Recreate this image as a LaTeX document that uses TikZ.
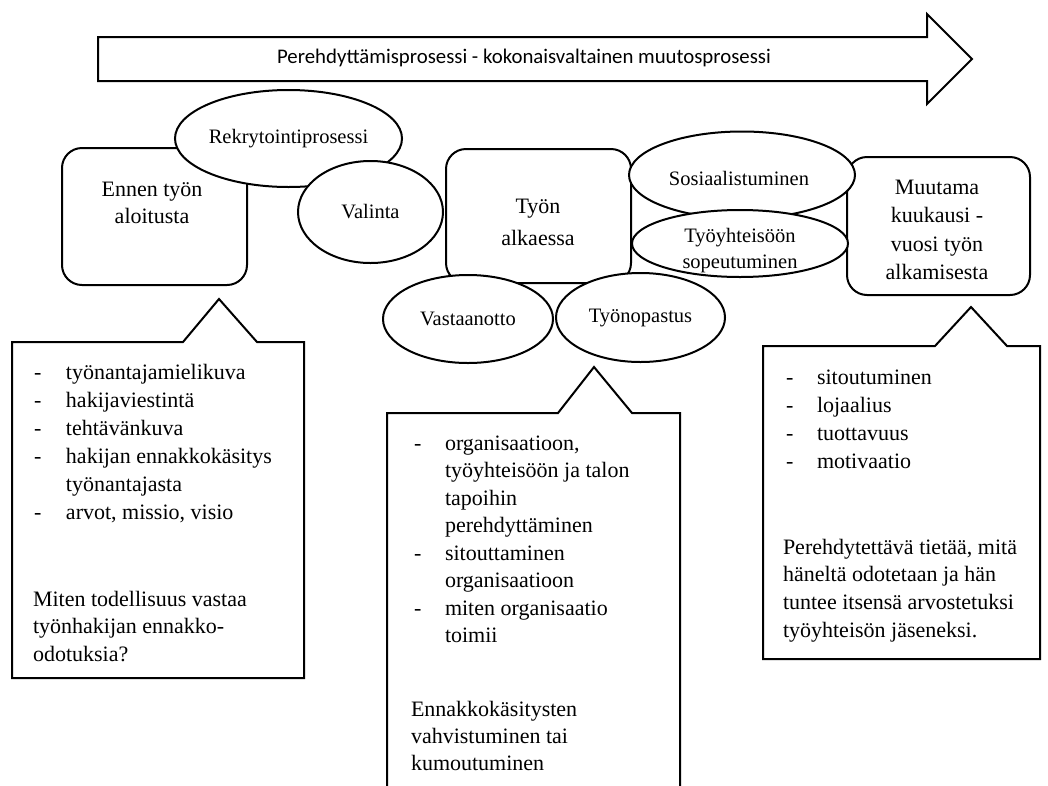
\documentclass[tikz,border=0pt]{standalone}
\usepackage{fontspec}
\setmainfont{Liberation Serif}
\newfontfamily\calib{Carlito}
\usetikzlibrary{shapes.geometric}
\begin{document}
\begin{tikzpicture}[x=1pt,y=-1pt,line width=2pt,
  bubble/.style={ellipse, draw, fill=white, inner sep=0pt, align=center,
    font=\fontsize{20.5}{26}\selectfont},
  bubbletext/.style={inner sep=0pt, align=center, font=\fontsize{20.5}{26}\selectfont},
  stagebox/.style={draw, fill=white, rounded corners=20pt, inner sep=0pt},
  stagetext/.style={anchor=north, inner sep=0pt, align=center},
  listtext/.style={anchor=north west, inner sep=0pt, align=left},
  callout/.style={draw, fill=white, line join=miter}]
\useasboundingbox (0,0) rectangle (1048,785);
% big process arrow
\draw[line join=miter] (98,37) -- (927,37) -- (927,14) -- (972,59) -- (927,104) -- (927,81) -- (98,81) -- cycle;
\node[font=\calib\fontsize{20.8}{24}\selectfont, inner sep=0pt] (title) at (524,58)
  {Perehdyttämisprosessi - kokonaisvaltainen muutosprosessi};
% stage boxes
\node[stagebox, minimum width=185pt, minimum height=137pt] (ennen) at (154.5,216.5) {};
\node[stagebox, minimum width=185pt, minimum height=134pt] (tyon) at (538.5,216) {};
\node[stagebox, minimum width=183pt, minimum height=138pt] (muutama) at (938.5,226) {};
% ellipses
\node[bubble, minimum width=227pt, minimum height=97pt] (rekry) at (288.5,138.5) {Rekrytointiprosessi};
\node[bubble, minimum width=145pt, minimum height=102pt] (valinta) at (370.5,212) {Valinta};
\node[bubble, minimum width=226pt, minimum height=87pt] (sosi) at (742,175) {};
\node[bubbletext, anchor=base] (sosiT) at (739,185) {Sosiaalistuminen};
\node[bubble, minimum width=216pt, minimum height=67pt] (tyoyht) at (740,243.5) {};
\node[bubbletext, anchor=north] (tyoyhtT) at (740,222.8) {\strut Työyhteisöön\\sopeutuminen};
\node[bubble, minimum width=170pt, minimum height=88pt] (vast) at (468,319) {Vastaanotto};
\node[bubble, minimum width=169pt, minimum height=89pt] (tyonop) at (640.5,317.5) {Työnopastus};
% stage texts
\node[stagetext, font=\fontsize{22}{27}\selectfont] (ennenT) at (152,176.1) {\strut Ennen työn\\aloitusta};
\node[stagetext, font=\fontsize{22}{32}\selectfont] (tyonT) at (538,189.6) {\strut Työn\\alkaessa};
\node[stagetext, font=\fontsize{22}{28.5}\selectfont] (muutamaT) at (937,173.2) {\strut Muutama\\kuukausi -\\vuosi työn\\alkamisesta};
% callouts
\draw[callout] (12,342) -- (183,342) -- (219,299) -- (257,342) -- (304,342) -- (304,678) -- (12,678) -- cycle;
\draw[callout] (387,413) -- (558,413) -- (594,367) -- (632,413) -- (680,413) -- (680,800) -- (387,800) -- cycle;
\draw[callout] (763,346) -- (935,346) -- (971,307) -- (1007,346) -- (1040,346) -- (1040,659) -- (763,659) -- cycle;
% left callout text
\node[listtext, font=\fontsize{22}{28}\selectfont] (leftlist) at (33,358.4)
  {\strut\makebox[32pt][l]{-}työnantajamielikuva\\
   \makebox[32pt][l]{-}hakijaviestintä\\
   \makebox[32pt][l]{-}tehtävänkuva\\
   \makebox[32pt][l]{-}hakijan ennakkokäsitys\\
   \hspace*{32pt}työnantajasta\\
   \makebox[32pt][l]{-}arvot, missio, visio};
\node[listtext, font=\fontsize{22}{27.5}\selectfont] (leftpara) at (32,585.8)
  {\strut Miten todellisuus vastaa\\työnhakijan ennakko-\\odotuksia?};
% middle callout text
\node[listtext, font=\fontsize{22}{27.5}\selectfont] (midlist) at (413,429.75)
  {\strut\makebox[31pt][l]{-}organisaatioon,\\
   \hspace*{31pt}työyhteisöön ja talon\\
   \hspace*{31pt}tapoihin\\
   \hspace*{31pt}perehdyttäminen\\
   \makebox[31pt][l]{-}sitouttaminen\\
   \hspace*{31pt}organisaatioon\\
   \makebox[31pt][l]{-}miten organisaatio\\
   \hspace*{31pt}toimii};
\node[listtext, font=\fontsize{22}{27}\selectfont] (midpara) at (410,696.1)
  {\strut Ennakkokäsitysten\\vahvistuminen tai\\kumoutuminen};
% right callout text
\node[listtext, font=\fontsize{22}{28}\selectfont] (rightlist) at (785,363.4)
  {\strut\makebox[31pt][l]{-}sitoutuminen\\
   \makebox[31pt][l]{-}lojaalius\\
   \makebox[31pt][l]{-}tuottavuus\\
   \makebox[31pt][l]{-}motivaatio};
\node[listtext, font=\fontsize{22}{27.7}\selectfont] (rightpara) at (782,533.6)
  {\strut Perehdytettävä tietää, mitä\\häneltä odotetaan ja hän\\tuntee itsensä arvostetuksi\\työyhteisön jäseneksi.};
\end{tikzpicture}
\end{document}
